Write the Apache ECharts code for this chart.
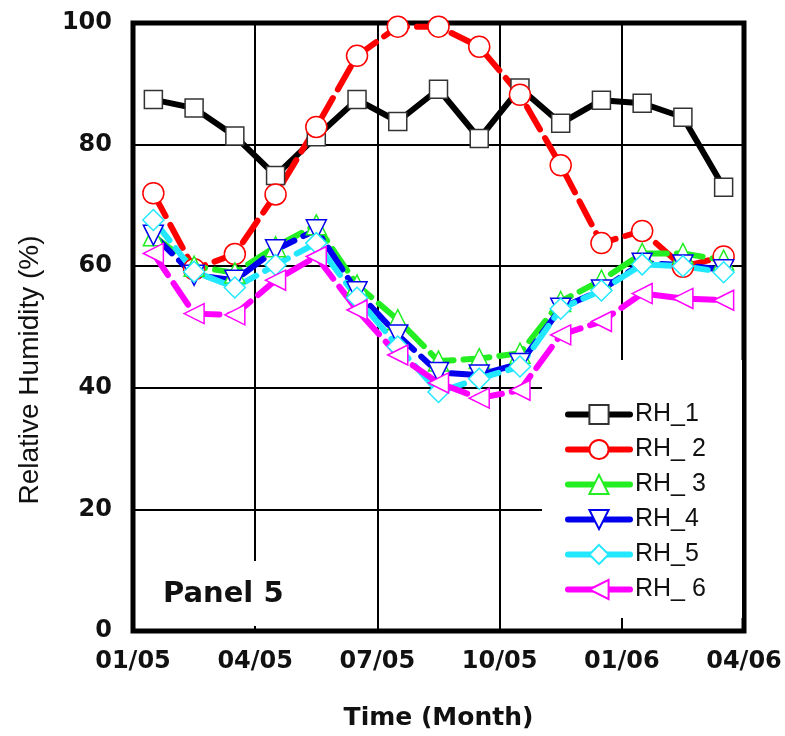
<!DOCTYPE html>
<html>
<head>
<meta charset="utf-8">
<script src="https://cdn.jsdelivr.net/npm/echarts@6/dist/echarts.min.js"></script>
<style>
  html, body { margin: 0; padding: 0; background: #fff; }
  #main { width: 785px; height: 736px; }
</style>
</head>
<body>
<div id="main"></div>
<script type="text/javascript">
// month positions (mid-month, 0 = Jan 2005)
var months = [0.5, 1.5, 2.5, 3.5, 4.5, 5.5, 6.5, 7.5, 8.5, 9.5, 10.5, 11.5, 12.5, 13.5, 14.5];
var tickLabels = ['01/05', '04/05', '07/05', '10/05', '01/06', '04/06'];

var rh1 = [87.4, 86.0, 81.4, 74.9, 81.3, 87.4, 83.8, 89.1, 81.0, 89.3, 83.5, 87.3, 86.8, 84.5, 73.0];
var rh2 = [72.0, 59.5, 62.0, 71.8, 82.9, 94.6, 99.4, 99.4, 96.1, 88.2, 76.6, 63.8, 65.8, 59.9, 61.6];
var rh3 = [65.0, 60.0, 58.9, 63.2, 66.8, 56.9, 51.2, 44.4, 44.8, 45.7, 54.2, 57.7, 62.1, 62.1, 61.0];
var rh4 = [65.1, 58.5, 57.7, 62.7, 66.0, 55.8, 48.7, 42.5, 42.1, 44.0, 53.1, 56.1, 60.5, 60.2, 59.4];
var rh5 = [67.6, 59.1, 56.5, 60.2, 63.8, 54.8, 46.8, 39.3, 41.5, 43.5, 53.0, 56.0, 60.3, 60.0, 59.0];
var rh6 = [62.1, 52.2, 52.0, 57.7, 61.6, 52.8, 45.4, 40.8, 38.3, 39.6, 48.7, 50.9, 55.5, 54.7, 54.4];

function pairs(vals) {
    return vals.map(function (v, i) { return [months[i], v]; });
}

var myChart = echarts.init(document.getElementById('main'));

function mk(name, vals, color, symbol, size, dashed) {
    return {
        name: name,
        type: 'line',
        data: pairs(vals),
        symbol: symbol,
        symbolSize: size,
        showAllSymbol: true,
        lineStyle: { color: color, width: 6, cap: 'round', type: dashed ? [26, 10] : 'solid' },
        itemStyle: { color: '#fff', borderColor: color, borderWidth: 1.5, opacity: 1 },
        emphasis: { disabled: true },
        z: 3
    };
}

var option = {
    animation: false,
    backgroundColor: '#fff',
    grid: {
        left: 133, right: 41, top: 23, bottom: 105,
        show: true, borderColor: '#000', borderWidth: 5
    },
    legend: {
        left: 560, top: 397,
        orient: 'vertical',
        itemWidth: 62, itemHeight: 24, itemGap: 10,
        lineStyle: { type: 'solid', width: 6 },
        textStyle: { fontFamily: 'Liberation Sans', fontSize: 25, color: '#111' },
        data: ['RH_1', 'RH_ 2', 'RH_ 3', 'RH_4', 'RH_5', 'RH_ 6']
    },
    graphic: [
        { type: 'rect', z: 1, shape: { x: 542, y: 360, width: 200, height: 258 }, style: { fill: '#fff' } },
        { type: 'rect', z: 1, shape: { x: 136, y: 561, width: 164, height: 65 }, style: { fill: '#fff' } },
        { type: 'text', z: 5, left: 163, top: 580,
          style: { text: 'Panel 5', font: 'bold 29px "DejaVu Sans"', fill: '#111' } },
        { type: 'text', z: 5, x: 30, y: 370, rotation: Math.PI / 2,
          style: { text: 'Relative Humidity (%)', font: '28px "Liberation Sans"', fill: '#111',
                   align: 'center', verticalAlign: 'middle' } }
    ],
    xAxis: {
        type: 'value', min: 0, max: 15, interval: 3,
        name: 'Time (Month)', nameLocation: 'middle', nameGap: 75,
        nameTextStyle: { fontFamily: 'DejaVu Sans', fontWeight: 'bold', fontSize: 25, color: '#111' },
        axisLine: { show: false },
        axisTick: { show: true, inside: true, length: 5, lineStyle: { color: '#000', width: 2 } },
        axisLabel: {
            margin: 19, fontFamily: 'DejaVu Sans', fontWeight: 'bold', fontSize: 24, color: '#111',
            formatter: function (v) { return tickLabels[Math.round(v / 3)]; }
        },
        splitLine: { show: true, lineStyle: { color: '#000', width: 2 } }
    },
    yAxis: {
        type: 'value', min: 0, max: 100, interval: 20,
        axisLine: { show: false },
        axisTick: { show: false },
        axisLabel: { margin: 21, fontFamily: 'DejaVu Sans', fontWeight: 'bold', fontSize: 24, color: '#111' },
        splitLine: { show: true, lineStyle: { color: '#000', width: 2 } }
    },
    series: [
        mk('RH_1', rh1, '#000000', 'rect', 18, false),
        mk('RH_ 2', rh2, '#ff0000', 'circle', 21, true),
        mk('RH_ 3', rh3, '#22ee22', 'triangle', 20, true),
        mk('RH_4', rh4, '#0000ee', 'path://M0,0 L10,0 L5,9 Z', 20, true),
        mk('RH_5', rh5, '#22e8ff', 'diamond', 21, true),
        mk('RH_ 6', rh6, '#ff00ff', 'path://M0,5 L9,0 L9,10 Z', 20, true)
    ]
};
option.series[0].itemStyle.borderColor = '#333';

myChart.setOption(option);
</script>
</body>
</html>
